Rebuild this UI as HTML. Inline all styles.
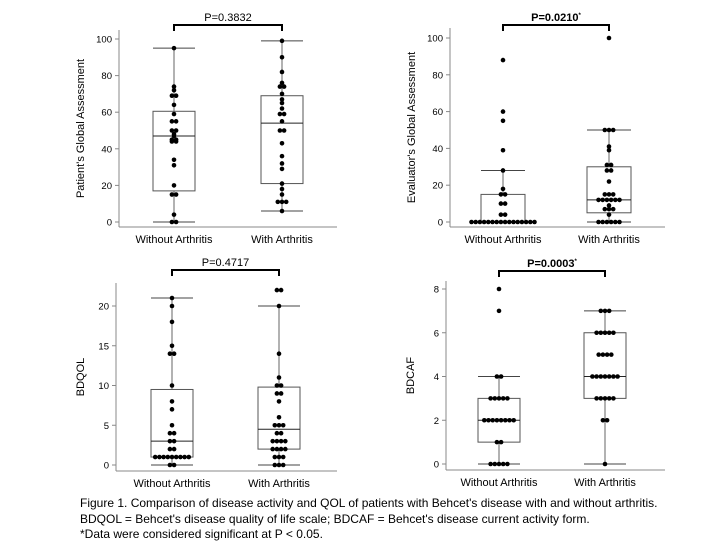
<!DOCTYPE html>
<html><head><meta charset="utf-8">
<style>
body{margin:0;background:#fff;width:720px;height:540px;overflow:hidden;font-family:"Liberation Sans",Arial,sans-serif;}
svg{position:absolute;left:0;top:0}
.cap{position:absolute;left:80px;top:496px;font-size:12px;line-height:15.5px;color:#000;white-space:nowrap}
</style></head><body>
<svg id="chart" width="720" height="540"></svg>
<div class="cap">Figure 1. Comparison of disease activity and QOL of patients with Behcet's disease with and without arthritis.<br>BDQOL = Behcet's disease quality of life scale; BDCAF = Behcet's disease current activity form.<br>*Data were considered significant at P &lt; 0.05.</div>
<script>
const categories = ["Without Arthritis","With Arthritis"];
const panelTitles = ["Patient's Global Assessment","Evaluator's Global Assessment","BDQOL","BDCAF"];
const pLabels = ["P=0.3832","P=0.0210","P=0.4717","P=0.0003"];
const pSignificant = [false,true,false,true];
const yTicks1 = [0,20,40,60,80,100];
const yTicks2 = [0,20,40,60,80,100];
const yTicks3 = [0,5,10,15,20];
const yTicks4 = [0,2,4,6,8];
const pga_without = [0,0,4,15,15,20,31,34,44,44,45,45,47,48,50,50,55,55,59,64,69,69,72,74,95];
const pga_with = [6,11,11,11,15,18,21,29,32,36,43,50,50,55,59,59,62,65,67,70,74,74,76,82,90,99];
const ega_without = [0,0,0,0,0,0,0,0,0,0,0,0,0,0,0,0,4,4,10,10,15,15,18,28,39,55,60,88];
const ega_with = [0,0,0,0,0,0,4,7,7,7,9,12,12,12,12,12,12,15,15,15,22,28,28,31,31,39,41,50,50,50,100];
const bdqol_without = [0,0,1,1,1,1,1,1,1,1,1,2,2,3,3,4,4,5,7,8,10,14,14,15,18,20,21];
const bdqol_with = [0,0,0,1,1,1,2,2,2,2,3,3,3,3,4,4,5,5,5,6,8,9,9,10,10,11,14,20,22,22];
const bdcaf_without = [0,0,0,0,0,1,1,2,2,2,2,2,2,2,2,3,3,3,3,3,4,4,7,8];
const bdcaf_with = [0,2,2,3,3,3,3,3,4,4,4,4,4,4,4,5,5,5,5,6,6,6,6,6,7,7,7];
// box stats: [whiskerLow, q1, median, q3, whiskerHigh]
const box1 = [[0,17,47,60.5,95],[6,21,54,69,99]];
const box2 = [[0,0,0,15,28],[0,5,12,30,50]];
const box3 = [[0,1,3,9.5,21],[0,2,4.5,9.8,20]];
const box4 = [[0,1,2,3,4],[0,3,4,6,7]];

const panels = [
 {ax:119,right:337,y0:222,yTopVal:100,yTopPx:39,axTop:30,bottom:227,cx:[174,282],ticks:yTicks1,data:[pga_without,pga_with],box:box1,titleX:84,bracketY:25,hw:21},
 {ax:450,right:665,y0:222,yTopVal:100,yTopPx:38,axTop:28,bottom:227,cx:[503,609],ticks:yTicks2,data:[ega_without,ega_with],box:box2,titleX:415,bracketY:25,hw:22},
 {ax:116,right:337,y0:465,yTopVal:20,yTopPx:306,axTop:283,bottom:471,cx:[172,279],ticks:yTicks3,data:[bdqol_without,bdqol_with],box:box3,titleX:84,bracketY:270,hw:21},
 {ax:446,right:665,y0:464,yTopVal:8,yTopPx:289,axTop:281,bottom:470,cx:[499,605],ticks:yTicks4,data:[bdcaf_without,bdcaf_with],box:box4,titleX:414,bracketY:271,hw:21}
];
const svg = document.getElementById('chart');
const NS = 'http://www.w3.org/2000/svg';
function mk(tag, attrs, parent){const e=document.createElementNS(NS,tag);for(const k in attrs)e.setAttribute(k,attrs[k]);(parent||svg).appendChild(e);return e;}

panels.forEach((p,pi)=>{
  const g = mk('g',{});
  
  
  const Y = v => p.y0 - (v/p.yTopVal)*(p.y0-p.yTopPx);
  // axes
  const ya = mk('line',{x1:p.ax,y1:p.axTop,x2:p.ax,y2:p.bottom,stroke:'#888','stroke-width':1},g);
  
  
  const xa = mk('line',{x1:p.ax,y1:p.bottom,x2:p.right,y2:p.bottom,stroke:'#888','stroke-width':1},g);
  
  
  p.ticks.forEach(t=>{
    mk('line',{x1:p.ax-4,y1:Y(t),x2:p.ax,y2:Y(t),stroke:'#888'},g);
    const tl = mk('text',{x:p.ax-7,y:Y(t)+3.5,'font-size':9.5,'text-anchor':'end',fill:'#000'},g);
    tl.textContent = t;
    
    
  });
  const yt = mk('text',{x:0,y:0,'font-size':11,'text-anchor':'middle',transform:`translate(${p.titleX},${(p.axTop+p.bottom)/2}) rotate(-90)`},g);
  yt.textContent = panelTitles[pi];
  
  
  categories.forEach((c,ci)=>{
    const xl = mk('text',{x:p.cx[ci],y:p.bottom+16,'font-size':11,'text-anchor':'middle'},g);
    xl.textContent = c;
    
    
    const b = p.box[ci], cx = p.cx[ci], hw = p.hw;
    mk('line',{x1:cx,y1:Y(b[0]),x2:cx,y2:Y(b[4]),stroke:'#666','stroke-width':1},g);
    mk('line',{x1:cx-hw,y1:Y(b[0]),x2:cx+hw,y2:Y(b[0]),stroke:'#444','stroke-width':1},g);
    mk('line',{x1:cx-hw,y1:Y(b[4]),x2:cx+hw,y2:Y(b[4]),stroke:'#444','stroke-width':1},g);
    const bx = mk('rect',{x:cx-hw,y:Y(b[3]),width:hw*2,height:Y(b[1])-Y(b[3]),fill:'#fff',stroke:'#555','stroke-width':1},g);
    
    
    mk('line',{x1:cx-hw,y1:Y(b[2]),x2:cx+hw,y2:Y(b[2]),stroke:'#222','stroke-width':1},g);
    // dots grouped by value
    const counts = {};
    p.data[ci].forEach(v=>{counts[v]=(counts[v]||0)+1;});
    Object.keys(counts).forEach(k=>{
      const n = counts[k];
      for(let i=0;i<n;i++){
        const d = mk('circle',{cx:cx+(i-(n-1)/2)*4.2,cy:Y(+k),r:2.3,fill:'#000'},g);
        
        
      }
    });
  });
  // bracket
  const by = p.bracketY;
  const br = mk('path',{d:`M${p.cx[0]},${by+6} V${by} H${p.cx[1]} V${by+6}`,fill:'none',stroke:'#000','stroke-width':2},g);
  
  
  const pt = mk('text',{x:(p.cx[0]+p.cx[1])/2,y:by-4,'font-size':11,'text-anchor':'middle','font-weight':pSignificant[pi]?'bold':'normal'},g);
  pt.textContent = pLabels[pi];
  if(pSignificant[pi]){const s=mk('tspan',{'font-size':6,dy:-4},pt);s.textContent='*';}
  
  
});
</script>
</body></html>
